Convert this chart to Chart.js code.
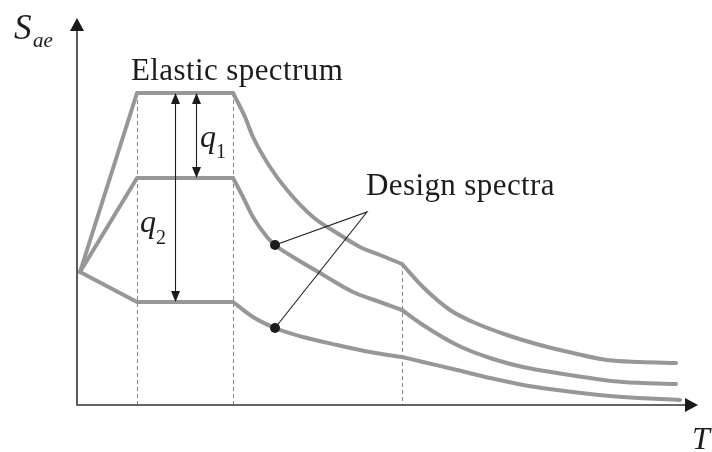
<!DOCTYPE html>
<html>
<head>
<meta charset="utf-8">
<script src="https://cdn.jsdelivr.net/npm/chart.js@4.4.1/dist/chart.umd.min.js"></script>
<style>
  html, body { margin: 0; padding: 0; background: #fff; }
  #wrap { width: 712px; height: 452px; }
</style>
</head>
<body>
<div id="wrap"><canvas id="spectrum"></canvas></div>
<script>
// Elastic spectrum (period T, spectral acceleration Sae)
const elasticT = [0.03, 0.60, 1.56, 1.68, 1.76, 1.93, 2.10, 2.36, 2.60, 2.83, 3.03, 3.25, 3.46, 3.73, 3.96, 4.30, 4.63, 4.96, 5.30, 5.63, 5.99];
const elasticS = [1.33, 3.12, 3.12, 2.88, 2.68, 2.38, 2.15, 1.88, 1.72, 1.58, 1.50, 1.41, 1.18, 0.95, 0.83, 0.70, 0.60, 0.52, 0.45, 0.43, 0.42];

// Design spectrum, reduction q1
const designQ1T = [0.03, 0.60, 1.56, 1.66, 1.76, 1.90, 1.98, 2.16, 2.43, 2.76, 3.03, 3.25, 3.46, 3.80, 4.13, 4.46, 4.80, 5.13, 5.46, 5.99];
const designQ1S = [1.33, 2.27, 2.27, 2.08, 1.88, 1.68, 1.60, 1.48, 1.32, 1.13, 1.03, 0.95, 0.80, 0.60, 0.47, 0.38, 0.32, 0.27, 0.23, 0.21];

// Design spectrum, reduction q2
const designQ2T = [0.03, 0.60, 1.56, 1.76, 1.98, 2.26, 2.60, 2.93, 3.25, 3.46, 3.80, 4.13, 4.46, 4.80, 5.13, 5.46, 6.03];
const designQ2S = [1.33, 1.03, 1.03, 0.88, 0.77, 0.68, 0.60, 0.53, 0.48, 0.43, 0.35, 0.27, 0.20, 0.15, 0.11, 0.08, 0.05];

// index of the TC and TD corners in each series (TB is always index 1)
const elasticCorners = [2, 11];
const designQ1Corners = [2, 11];
const designQ2Corners = [2, 8];

// markers on the design curves and the label point the leaders meet at
const markerT = [1.98, 1.98];
const markerS = [1.60, 0.77];
const leaderApex = [2.90, 1.93];

// where the q1 / q2 arrows stand
const arrowQ1T = 1.19;
const arrowQ2T = 0.98;

const GREY = '#979797';
const INK = '#1e1b1c';
const SERIF = '"Liberation Serif", "DejaVu Serif", serif';

const pts = (xs, ys) => xs.map((x, i) => ({ x: x, y: ys[i] }));

// one curve = straight rise + plateau, then two smooth branches that
// meet with a kink at TD
function spectrumSets(label, xs, ys, corners) {
    const [c, d] = corners;
    const base = {
        showLine: true,
        borderColor: GREY,
        borderWidth: 4,
        pointRadius: 0,
        borderJoinStyle: 'round',
        borderCapStyle: 'round',
        order: 1
    };
    return [
        Object.assign({}, base, { label: label, data: pts(xs.slice(0, c + 1), ys.slice(0, c + 1)), tension: 0 }),
        Object.assign({}, base, { label: label, data: pts(xs.slice(c, d + 1), ys.slice(c, d + 1)), cubicInterpolationMode: 'monotone' }),
        Object.assign({}, base, { label: label, data: pts(xs.slice(d), ys.slice(d)), cubicInterpolationMode: 'monotone' })
    ];
}

function arrowHead(ctx, x, y, dir, len, half) {
    ctx.beginPath();
    if (dir === 'up') {
        ctx.moveTo(x, y); ctx.lineTo(x - half, y + len); ctx.lineTo(x + half, y + len);
    } else if (dir === 'down') {
        ctx.moveTo(x, y); ctx.lineTo(x - half, y - len); ctx.lineTo(x + half, y - len);
    } else {
        ctx.moveTo(x, y); ctx.lineTo(x - len, y - half); ctx.lineTo(x - len, y + half);
    }
    ctx.closePath();
    ctx.fill();
}

function text(ctx, str, x, y, size, italic, spacing) {
    ctx.font = (italic ? 'italic ' : '') + size + 'px ' + SERIF;
    ctx.letterSpacing = (spacing || 0) + 'px';
    ctx.fillText(str, x, y);
}

const sketchPlugin = {
    id: 'sketch',
    beforeDatasetsDraw(chart) {
        const { ctx, scales: { x, y } } = chart;
        const x0 = x.getPixelForValue(0);
        const y0 = y.getPixelForValue(0);
        ctx.save();

        // dashed guides at TB, TC and TD
        ctx.strokeStyle = '#8a8a8a';
        ctx.lineWidth = 1;
        ctx.setLineDash([4, 3]);
        [1].concat(elasticCorners).forEach(i => {
            const px = Math.round(x.getPixelForValue(elasticT[i])) + 0.5;
            ctx.beginPath();
            ctx.moveTo(px, y.getPixelForValue(elasticS[i]));
            ctx.lineTo(px, y0);
            ctx.stroke();
        });
        ctx.setLineDash([]);

        // axes with arrow heads
        ctx.strokeStyle = '#333';
        ctx.fillStyle = '#1a1a1a';
        ctx.lineWidth = 1.6;
        const xEnd = x.getPixelForValue(x.max);
        const yEnd = y.getPixelForValue(y.max);
        ctx.beginPath();
        ctx.moveTo(x0, yEnd + 10);
        ctx.lineTo(x0, y0);
        ctx.lineTo(xEnd - 10, y0);
        ctx.stroke();
        arrowHead(ctx, x0, yEnd, 'up', 13, 7);
        arrowHead(ctx, xEnd, y0, 'right', 13, 7);
        ctx.restore();
    },
    afterDatasetsDraw(chart) {
        const { ctx, scales: { x, y } } = chart;
        ctx.save();
        ctx.strokeStyle = INK;
        ctx.fillStyle = INK;
        ctx.lineWidth = 1.1;

        // double arrows for the behaviour factors
        const top = y.getPixelForValue(elasticS[1]);
        [[arrowQ1T, designQ1S[1]], [arrowQ2T, designQ2S[1]]].forEach(([t, s]) => {
            const px = Math.round(x.getPixelForValue(t)) + 0.5;
            const bot = y.getPixelForValue(s);
            ctx.beginPath();
            ctx.moveTo(px, top + 8);
            ctx.lineTo(px, bot - 8);
            ctx.stroke();
            arrowHead(ctx, px, top, 'up', 11, 4.5);
            arrowHead(ctx, px, bot, 'down', 11, 4.5);
        });

        // labels
        ctx.textBaseline = 'alphabetic';
        ctx.textAlign = 'left';
        text(ctx, 'S', 14, 39, 35, true);
        text(ctx, 'ae', 33, 47, 21, true);
        text(ctx, 'T', 692, 449, 32, true);
        text(ctx, 'q', 200, 147, 32, true);
        text(ctx, '1', 216, 158, 20, false);
        text(ctx, 'q', 140, 232, 32, true);
        text(ctx, '2', 156, 244, 20, false);
        text(ctx, 'Elastic spectrum', 131, 80, 31, false, 0.4);
        text(ctx, 'Design spectra', 366, 195, 31, false, 0.4);
        ctx.restore();
    }
};

new Chart(document.getElementById('spectrum'), {
    type: 'scatter',
    data: {
        datasets: [
            {
                label: 'Leaders',
                data: [
                    { x: markerT[0], y: markerS[0] },
                    { x: leaderApex[0], y: leaderApex[1] },
                    { x: markerT[1], y: markerS[1] }
                ],
                showLine: true,
                borderColor: INK,
                borderWidth: 1.1,
                pointRadius: 0,
                order: 0
            },
            {
                label: 'Markers',
                data: pts(markerT, markerS),
                showLine: false,
                pointRadius: 5,
                pointBackgroundColor: INK,
                pointBorderColor: INK,
                pointBorderWidth: 0,
                order: 0
            }
        ].concat(
            spectrumSets('Elastic spectrum', elasticT, elasticS, elasticCorners),
            spectrumSets('Design spectrum q1', designQ1T, designQ1S, designQ1Corners),
            spectrumSets('Design spectrum q2', designQ2T, designQ2S, designQ2Corners)
        )
    },
    options: {
        responsive: true,
        maintainAspectRatio: false,
        animation: false,
        clip: false,
        layout: { padding: { left: 77, right: 14, top: 18, bottom: 47 } },
        scales: {
            x: { type: 'linear', display: false, min: 0, max: 6.21 },
            y: { type: 'linear', display: false, min: 0, max: 3.87 }
        },
        plugins: {
            legend: { display: false },
            tooltip: { enabled: false }
        }
    },
    plugins: [sketchPlugin]
});
</script>
</body>
</html>
